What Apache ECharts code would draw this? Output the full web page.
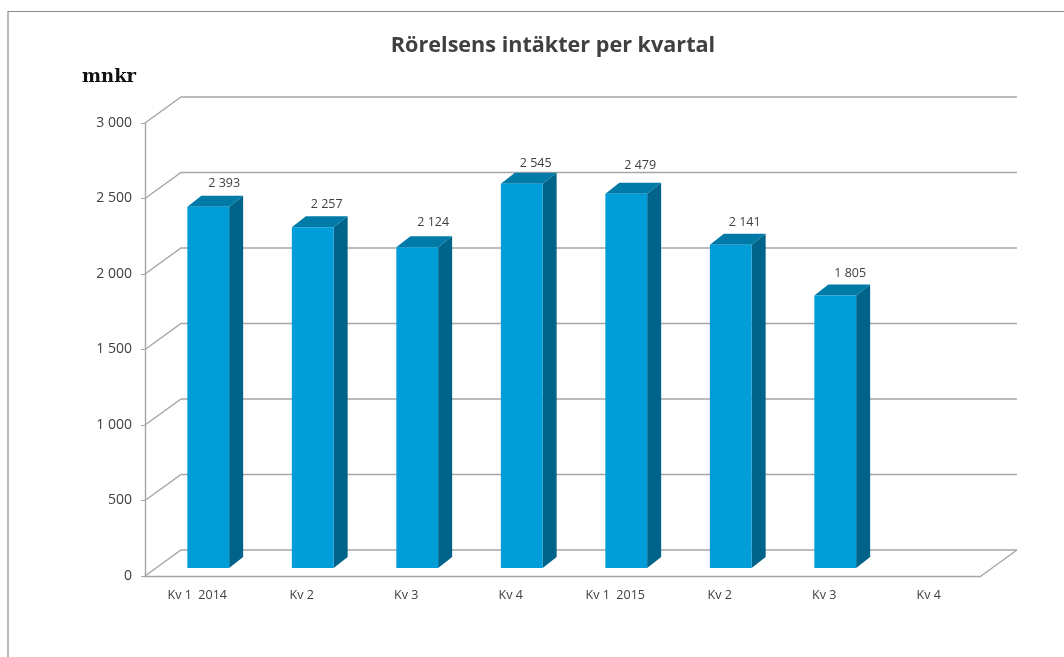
<!DOCTYPE html>
<html>
<head>
<meta charset="utf-8">
<style>html,body{margin:0;padding:0;background:#fff}#main{width:1064px;height:657px}</style>
<script src="https://cdn.jsdelivr.net/npm/echarts@6/dist/echarts.min.js"></script>
</head>
<body>
<div id="main"></div>
<script>
var myChart = echarts.init(document.getElementById('main'));

var categories = ['Kv 1  2014', 'Kv 2', 'Kv 3', 'Kv 4', 'Kv 1  2015', 'Kv 2', 'Kv 3', 'Kv 4'];
var intakter = [2393, 2257, 2124, 2545, 2479, 2141, 1805, null];
var yTicks = [0, 500, 1000, 1500, 2000, 2500, 3000];

// 3d look: how far the back wall and the bars are pushed
var wallDx = 36, wallDy = -26;
var barDx = 11, barDy = -8;
var depthDx = 14, depthDy = -11;

// the value labels were moved by hand in the original
var labelDx = [0, -2, 0, -2, -2, -2, -1];
var labelDy = [1, 1, -1, 4, -4, 2, 2];

function fmt(v) {
    return String(v).replace(/\B(?=(\d{3})+$)/g, ' ');
}

function renderWall(params, api) {
    var y = api.coord([0, api.value(0)])[1];
    var x0 = params.coordSys.x;
    var x1 = x0 + params.coordSys.width;
    var children = [{
        type: 'polyline',
        shape: { points: [[x0, y], [x0 + wallDx, y + wallDy], [x1 + wallDx, y + wallDy]] },
        style: { fill: null, stroke: '#a6a6a6', lineWidth: 1.4 }
    }];
    if (api.value(0) === 0) {
        children.push({
            type: 'line',
            shape: { x1: x1, y1: y, x2: x1 + wallDx, y2: y + wallDy },
            style: { stroke: '#a6a6a6', lineWidth: 1.4 }
        });
    }
    return { type: 'group', children: children };
}

function renderBar(params, api) {
    var i = api.value(0);
    var v = api.value(1);
    var top = api.coord([i, v]);
    var bottom = api.coord([i, 0]);
    var w = api.size([1, 0])[0] * 0.4;
    var xl = top[0] - w / 2 + barDx;
    var xr = xl + w;
    var yt = top[1] + barDy;
    var yb = bottom[1] + barDy;
    return {
        type: 'group',
        children: [{
            type: 'polygon',
            shape: { points: [[xr, yt], [xr + depthDx, yt + depthDy], [xr + depthDx, yb + depthDy], [xr, yb]] },
            style: { fill: '#00648a' }
        }, {
            type: 'polygon',
            shape: { points: [[xl, yt], [xl + depthDx, yt + depthDy], [xr + depthDx, yt + depthDy], [xr, yt]] },
            style: { fill: '#007aa6' }
        }, {
            type: 'rect',
            shape: { x: xl, y: yt, width: w, height: yb - yt },
            style: { fill: '#009dd9' }
        }, {
            type: 'text',
            style: {
                x: xl + w / 2 + 16 + labelDx[i], y: yt - 24 + labelDy[i], text: fmt(v),
                fill: '#404040', font: '12.5px "Open Sans"', align: 'center', verticalAlign: 'middle'
            }
        }]
    };
}

var barData = [];
intakter.forEach(function (v, i) {
    if (v !== null) barData.push([i, v]);
});

var option = {
    backgroundColor: '#fff',
    animation: false,
    title: {
        text: 'Rörelsens intäkter per kvartal',
        left: 548,
        top: 30,
        textAlign: 'center',
        textStyle: { fontFamily: 'Open Sans', fontSize: 21.6, fontWeight: 'bold', color: '#404040' }
    },
    grid: { left: 145, right: 83, top: 123, bottom: 81 },
    xAxis: {
        type: 'category',
        data: categories,
        axisLine: { lineStyle: { color: '#a6a6a6', width: 1.4 } },
        axisTick: { alignWithLabel: false, length: 4, lineStyle: { color: '#a6a6a6' } },
        axisLabel: { interval: 0, color: '#404040', fontFamily: 'Open Sans', fontSize: 12.5, margin: 13 }
    },
    yAxis: {
        type: 'value',
        min: 0,
        max: 3000,
        interval: 500,
        axisLine: { show: true, lineStyle: { color: '#a6a6a6', width: 1.4 } },
        axisTick: { show: true, length: 4, lineStyle: { color: '#a6a6a6' } },
        axisLabel: { color: '#404040', fontFamily: 'Open Sans', fontSize: 14, margin: 13, padding: [4, 0, 0, 0], formatter: fmt },
        splitLine: { show: false }
    },
    graphic: [{
        type: 'text',
        left: 82,
        top: 68,
        style: { text: 'mnkr', fill: '#111', font: 'bold 18px "DejaVu Serif"' }
    }, {
        type: 'polyline',
        shape: { points: [[8, 657], [8, 11.5], [1064, 11.5]] },
        style: { fill: null, stroke: '#8c8c8c', lineWidth: 1.2 }
    }],
    series: [{
        type: 'custom',
        renderItem: renderWall,
        data: yTicks.map(function (t) { return [t]; }),
        encode: { y: 0 },
        clip: false,
        silent: true,
        z: 1
    }, {
        type: 'custom',
        renderItem: renderBar,
        data: barData,
        encode: { x: 0, y: 1 },
        clip: false,
        silent: true,
        z: 2
    }]
};

myChart.setOption(option);
window.onresize = myChart.resize;
</script>
</body>
</html>
